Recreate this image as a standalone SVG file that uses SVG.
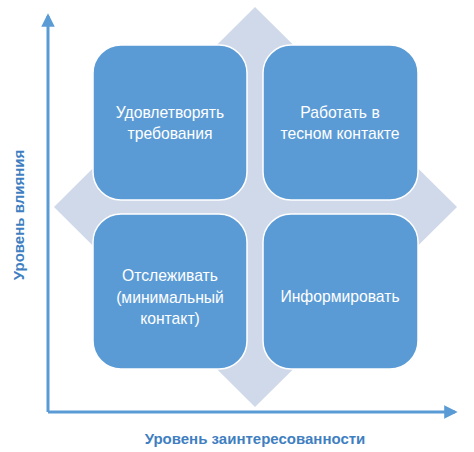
<svg xmlns="http://www.w3.org/2000/svg" width="474" height="452" viewBox="0 0 474 452">
<defs>
<style>
.box{fill:#5B9BD5;stroke:#ffffff;stroke-width:1.5}
.t{font-family:"Liberation Sans",Arial,sans-serif;font-size:15.7px;fill:#ffffff;text-anchor:middle;dominant-baseline:central}
.ax{stroke:#5B9BD5;stroke-width:3;fill:none}
.lbl{font-family:"Liberation Sans",Arial,sans-serif;font-size:15px;font-weight:bold;fill:#3F7FC1;text-anchor:middle;dominant-baseline:central}
</style>
<marker id="ah" viewBox="0 0 10 10" refX="8" refY="5" markerWidth="4.5" markerHeight="4.5" orient="auto" markerUnits="strokeWidth">
<path d="M0,0 L10,5 L0,10 z" fill="#5B9BD5"/>
</marker>
</defs>
<rect width="474" height="452" fill="#ffffff"/>
<g id="connectors">
<path class="ax" d="M48,412 L48,16" marker-end="url(#ah)"/>
<path class="ax" d="M48,412 L455,412" marker-end="url(#ah)"/>
</g>
<g id="diamond">
<polygon points="255,7 457,207 255,407 54,207" fill="#D0D9EA"/>
</g>
<g id="n1">
<rect class="box" x="93" y="45" width="154" height="155" rx="28"/>
<text class="t" x="170" y="112">Удовлетворять</text>
<text class="t" x="170" y="133">требования</text>
</g>
<g id="n2">
<rect class="box" x="263" y="45" width="155" height="155" rx="28"/>
<text class="t" x="340" y="112">Работать в</text>
<text class="t" x="340" y="133">тесном контакте</text>
</g>
<g id="n3">
<rect class="box" x="93" y="214" width="154" height="155" rx="28"/>
<text class="t" x="170" y="275">Отслеживать</text>
<text class="t" x="170" y="297">(минимальный</text>
<text class="t" x="170" y="318">контакт)</text>
</g>
<g id="n4">
<rect class="box" x="263" y="214" width="155" height="155" rx="28"/>
<text class="t" x="340" y="296">Информировать</text>
</g>
<g id="labels">
<text class="lbl" x="255" y="438">Уровень заинтересованности</text>
<text class="lbl" transform="translate(18,215) rotate(-90)">Уровень влияния</text>
</g>
</svg>
